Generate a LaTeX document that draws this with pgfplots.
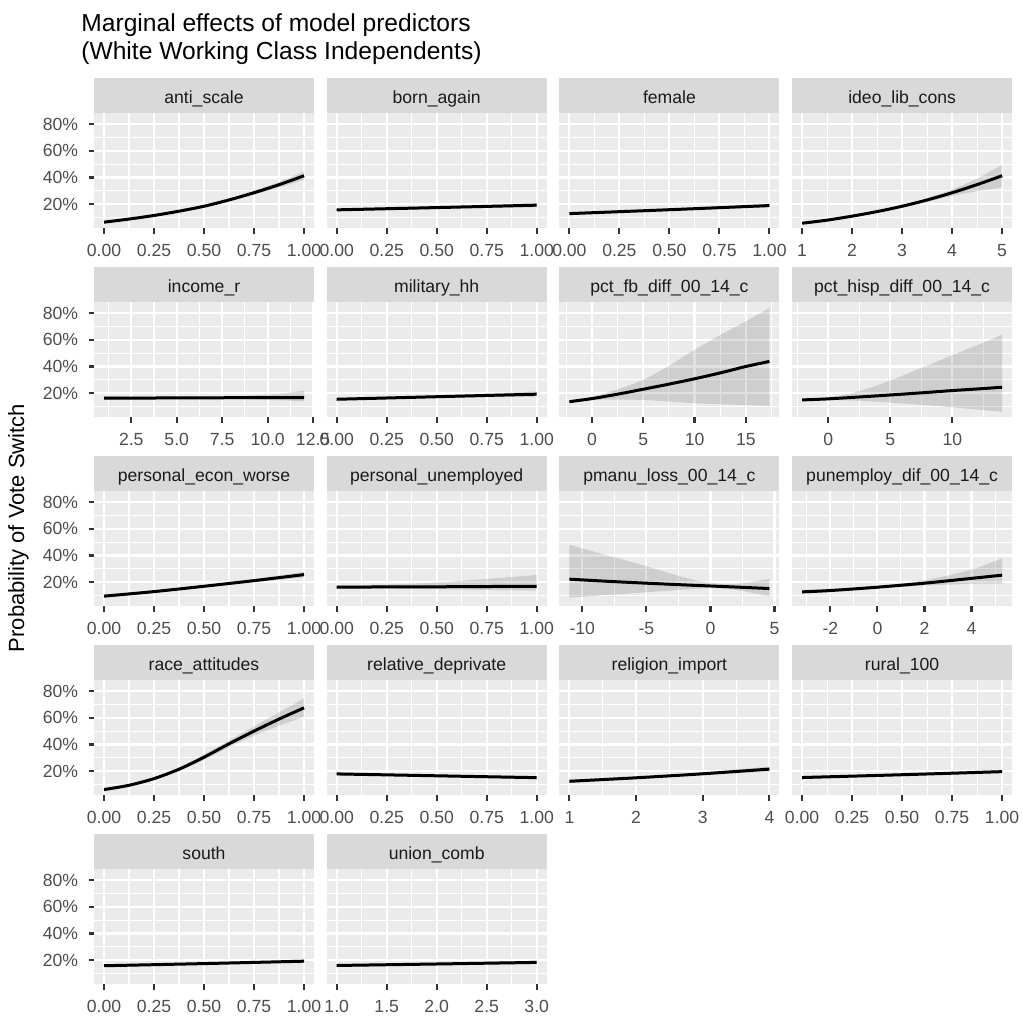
\documentclass[border=0pt]{standalone}
\usepackage{fontspec}
\setmainfont{Liberation Sans}
\usepackage{pgfplots}
\usepackage{pgfplotstable}
\pgfplotsset{compat=1.18}
\usepgfplotslibrary{fillbetween}

\definecolor{gg92}{HTML}{EBEBEB}
\definecolor{gg85}{HTML}{D9D9D9}
\definecolor{gg30}{HTML}{4D4D4D}
\definecolor{gg20}{HTML}{333333}
\definecolor{gg10}{HTML}{1A1A1A}

\newcommand\ggsmall{\fontsize{8.8}{10}\selectfont}
\newcommand\ggaxtitle{\fontsize{11}{13}\selectfont}
\newcommand\ggtitle{\fontsize{12.3}{14}\selectfont}

% predicted probability (%) with lower / upper band, one table per predictor
\pgfplotstableread{
x y lo hi
0 6.6 5.7 7.6
0.125 8.9 8.1 9.8
0.25 11.6 10.9 12.4
0.375 14.8 14.1 15.6
0.5 18.5 17.7 19.4
0.625 23.2 22.2 24.3
0.75 28.6 27.2 30.1
0.875 34.6 32.6 36.7
1 41.3 38.3 44.4
}\tAnti
\pgfplotstableread{
x y lo hi
0 15.8 14.8 16.8
0.5 17.5 16.6 18.4
1 19.3 17.8 20.9
}\tBorn
\pgfplotstableread{
x y lo hi
0 13.0 12.0 14.0
0.5 15.9 15.2 16.6
1 19.0 17.8 20.3
}\tFemale
\pgfplotstableread{
x y lo hi
1 5.8 5.0 6.7
1.5 8.1 7.3 8.9
2 11.1 10.4 11.9
2.5 14.5 13.8 15.3
3 18.5 17.6 19.4
3.5 23.2 21.9 24.5
4 28.6 26.3 31.0
4.5 34.7 29.8 39.2
5 41.3 32.5 49.5
}\tIdeo
\pgfplotstableread{
x y lo hi
1 16.3 15.0 17.8
3 16.4 15.5 17.4
5 16.5 15.8 17.2
7 16.6 15.8 17.4
9 16.7 15.4 18.2
11 16.8 14.6 20.1
12 16.8 13.9 22.0
}\tIncome
\pgfplotstableread{
x y lo hi
0 15.5 14.7 16.4
0.5 17.4 16.6 18.2
1 19.3 17.4 21.4
}\tMilitary
\pgfplotstableread{
x y lo hi
-2.2 13.7 12.8 14.5
0 16.0 14.9 17.3
2.5 19.3 15.2 23.0
5 23.0 15.0 30.0
7.5 26.8 13.8 40.5
10 30.8 12.5 52.5
12.5 35.2 11.8 63.5
15 40.0 11.2 73.8
17.3 43.8 10.5 83.8
}\tFb
\pgfplotstableread{
x y lo hi
-2.1 15.0 14.2 15.8
0 15.8 14.9 16.8
2.5 17.2 14.3 21.5
5 18.7 13.0 29.5
7.5 20.3 11.3 39.0
10 22.0 9.5 48.5
12 23.2 7.8 56.0
14 24.5 6.2 63.8
}\tHisp
\pgfplotstableread{
x y lo hi
0 9.6 8.6 10.7
0.25 13.0 12.3 13.8
0.5 17.0 16.3 17.8
0.75 21.2 20.1 22.4
1 25.7 23.6 27.9
}\tEcon
\pgfplotstableread{
x y lo hi
0 16.3 15.3 17.4
0.25 16.5 15.2 18.3
0.5 16.6 14.8 19.8
0.75 16.8 14.3 22.5
1 17.0 13.8 25.4
}\tUnemp
\pgfplotstableread{
x y lo hi
-11 22.3 8.5 48.0
-8 20.7 10.5 40.0
-5 19.3 12.5 32.0
-2 18.0 14.5 23.5
0 17.2 15.6 19.5
2 16.4 14.2 18.8
4.6 15.3 9.5 22.5
}\tManu
\pgfplotstableread{
x y lo hi
-3.2 12.8 11.4 14.4
-2 13.8 12.7 15.0
0 16.3 15.4 17.3
2 19.3 17.5 21.5
4 22.9 18.8 29.5
5.3 25.3 19.0 38.0
}\tPunemp
\pgfplotstableread{
x y lo hi
0 6.3 5.3 7.5
0.125 9.5 8.6 10.5
0.25 14.5 13.5 15.5
0.375 21.5 20.3 22.7
0.5 30.5 28.5 32.5
0.625 40.5 38.0 43.0
0.75 50.0 46.5 53.5
0.875 59.0 54.0 64.0
1 67.4 60.5 74.5
}\tRace
\pgfplotstableread{
x y lo hi
0 18.0 17.0 19.0
0.5 16.6 15.9 17.3
1 15.2 14.0 16.4
}\tReldep
\pgfplotstableread{
x y lo hi
1 12.5 11.5 13.6
2 15.1 14.3 15.9
3 18.1 17.2 19.1
4 21.6 19.8 23.5
}\tRelig
\pgfplotstableread{
x y lo hi
0 15.3 14.4 16.3
0.5 17.4 16.7 18.1
1 19.7 18.5 21.0
}\tRural
\pgfplotstableread{
x y lo hi
0 15.9 15.0 16.8
0.5 17.5 16.8 18.2
1 19.3 18.2 20.4
}\tSouth
\pgfplotstableread{
x y lo hi
1 16.1 15.2 17.0
2 17.2 16.5 17.9
3 18.4 17.1 19.8
}\tUnion

\pgfplotsset{
  ggfacet/.style={
    scale only axis, width=110pt, height=57.5pt,
    ymin=2, ymax=88,
    ytick={20,40,60,80}, minor ytick={10,30,50,70},
    yticklabels={20\%,40\%,60\%,80\%},
    grid=both,
    major grid style={white, line width=1.07pt},
    minor grid style={white, line width=0.53pt},
    axis background/.style={fill=gg92},
    axis line style={draw=none},
    tick align=outside, xtick pos=left, ytick pos=left,
    major tick length=2.75pt, minor tick length=0pt,
    tick style={gg20, line width=1.07pt},
    ticklabel style={font=\ggsmall, text=gg30},
    xticklabel style={inner sep=0pt, yshift=-5pt},
    yticklabel style={inner sep=0pt, xshift=-5pt},
  },
  noy/.style={yticklabels={}, y tick style={draw=none}},
  unit/.style={xmin=-0.05, xmax=1.05, xtick={0,0.25,0.5,0.75,1},
    xticklabels={0.00,0.25,0.50,0.75,1.00}, minor xtick={0.125,0.375,0.625,0.875}},
}

\newcommand\curve[1]{%
  \addplot[draw=none, smooth, name path=hi, forget plot] table[x=x, y=hi]{#1};
  \addplot[draw=none, smooth, name path=lo, forget plot] table[x=x, y=lo]{#1};
  \addplot[fill=black, fill opacity=0.12, draw=none] fill between[of=hi and lo];
  \addplot[black, line width=1.5pt, smooth] table[x=x, y=y]{#1};
}

% one facet: left, top, strip label, axis options, table
\newcommand\facet[5]{%
  \begin{axis}[ggfacet, name=panel, at={(#1,#2)}, anchor=north west, #4]
    \curve{#5}
  \end{axis}
  \fill[gg85] (panel.north west) rectangle ([yshift=17.5pt]panel.north east);
  \node[font=\ggsmall, text=gg10, anchor=base] at ([yshift=4.8pt]panel.north) {#3};
}

\begin{document}
\begin{tikzpicture}
% row 1
\facet{47pt}{-56.65pt}{anti\_scale}{unit}{\tAnti}
\facet{163.35pt}{-56.65pt}{born\_again}{unit, noy}{\tBorn}
\facet{279.7pt}{-56.65pt}{female}{unit, noy}{\tFemale}
\facet{396.05pt}{-56.65pt}{ideo\_lib\_cons}{noy, xmin=0.8, xmax=5.2, xtick={1,2,3,4,5},
  xticklabels={1,2,3,4,5}, minor xtick={1.5,2.5,3.5,4.5}}{\tIdeo}
% row 2
\facet{47pt}{-151.15pt}{income\_r}{xmin=0.45, xmax=12.55, xtick={2.5,5,7.5,10,12.5},
  xticklabels={2.5,5.0,7.5,10.0,12.5}, minor xtick={1.25,3.75,6.25,8.75,11.25}}{\tIncome}
\facet{163.35pt}{-151.15pt}{military\_hh}{unit, noy}{\tMilitary}
\facet{279.7pt}{-151.15pt}{pct\_fb\_diff\_00\_14\_c}{noy, xmin=-3.175, xmax=18.275,
  xtick={0,5,10,15}, xticklabels={0,5,10,15}, minor xtick={-2.5,2.5,7.5,12.5,17.5}}{\tFb}
\facet{396.05pt}{-151.15pt}{pct\_hisp\_diff\_00\_14\_c}{noy, xmin=-2.905, xmax=14.805,
  xtick={0,5,10}, xticklabels={0,5,10}, minor xtick={-2.5,2.5,7.5,12.5}}{\tHisp}
% row 3
\facet{47pt}{-245.65pt}{personal\_econ\_worse}{unit}{\tEcon}
\facet{163.35pt}{-245.65pt}{personal\_unemployed}{unit, noy}{\tUnemp}
\facet{279.7pt}{-245.65pt}{pmanu\_loss\_00\_14\_c}{noy, xmin=-11.78, xmax=5.38,
  xtick={-10,-5,0,5}, xticklabels={-10,-5,0,5}, minor xtick={-7.5,-2.5,2.5}}{\tManu}
\facet{396.05pt}{-245.65pt}{punemploy\_dif\_00\_14\_c}{noy, xmin=-3.625, xmax=5.725,
  xtick={-2,0,2,4}, xticklabels={-2,0,2,4}, minor xtick={-3,-1,1,3,5}}{\tPunemp}
% row 4
\facet{47pt}{-340.15pt}{race\_attitudes}{unit}{\tRace}
\facet{163.35pt}{-340.15pt}{relative\_deprivate}{unit, noy}{\tReldep}
\facet{279.7pt}{-340.15pt}{religion\_import}{noy, xmin=0.85, xmax=4.15, xtick={1,2,3,4},
  xticklabels={1,2,3,4}, minor xtick={1.5,2.5,3.5}}{\tRelig}
\facet{396.05pt}{-340.15pt}{rural\_100}{unit, noy}{\tRural}
% row 5
\facet{47pt}{-434.65pt}{south}{unit}{\tSouth}
\facet{163.35pt}{-434.65pt}{union\_comb}{noy, xmin=0.9, xmax=3.1, xtick={1,1.5,2,2.5,3},
  xticklabels={1.0,1.5,2.0,2.5,3.0}, minor xtick={1.25,1.75,2.25,2.75}}{\tUnion}

% titles
\node[anchor=base west, inner sep=0pt, font=\ggtitle] at (40.5pt,-15.75pt) {Marginal effects of model predictors};
\node[anchor=base west, inner sep=0pt, font=\ggtitle] at (40.5pt,-29.75pt) {(White Working Class Independents)};
\node[rotate=90, font=\ggaxtitle] at (9.25pt,-264pt) {Probability of Vote Switch};

\pgfresetboundingbox
\path (0pt,0pt) rectangle (513pt,-508.5pt);
\end{tikzpicture}
\end{document}
